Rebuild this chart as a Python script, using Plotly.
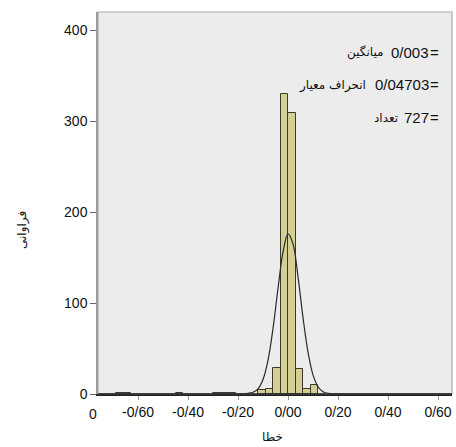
import plotly.graph_objects as go

# Histogram bins (centers) and frequencies
bin_centers = [-0.675, -0.645, -0.435, -0.285, -0.255, -0.225, -0.105, -0.075,
               -0.045, -0.015, 0.015, 0.045, 0.075, 0.105]
counts = [1, 1, 1, 1, 1, 1, 4, 5, 29, 330, 309, 27, 5, 10]
bin_width = 0.03

# Fitted normal curve
curve_x = [-0.76, -0.30, -0.20, -0.16, -0.14, -0.12, -0.10, -0.08, -0.06, -0.04,
           -0.02, 0.0, 0.02, 0.04, 0.06, 0.08, 0.10, 0.12, 0.14, 0.16, 0.20, 0.30, 0.656]
curve_y = [0, 0, 0.1, 0.8, 2, 5.7, 16, 37, 72, 116,
           156, 176, 165, 129, 84, 46, 21, 8, 2.6, 0.7, 0.1, 0, 0]

tick_vals = [-0.6, -0.4, -0.2, 0.0, 0.2, 0.4, 0.6]
tick_text = ["-0/60", "-0/40", "-0/20", "0/00", "0/20", "0/40", "0/60"]
y_ticks = [0, 100, 200, 300, 400]

stat_values = ["0/003", "0/04703", "727"]
stat_labels = ["میانگین", "انحراف معیار", "تعداد"]

FONT = "Liberation Sans, Arial, DejaVu Sans, sans-serif"

fig = go.Figure()
fig.add_trace(go.Bar(
    x=bin_centers, y=counts, width=bin_width,
    marker=dict(color="#d5ce95", line=dict(color="#3a3a2a", width=1)),
    hoverinfo="skip",
))
fig.add_trace(go.Scatter(
    x=curve_x, y=curve_y, mode="lines", line=dict(color="#2a2a2a", width=1.2, shape="spline"),
    hoverinfo="skip",
))

fig.update_layout(
    width=456, height=447,
    margin=dict(l=98, r=4, t=12, b=53),
    paper_bgcolor="white",
    plot_bgcolor="#ececec",
    showlegend=False,
    bargap=0,
    font=dict(family=FONT, size=14, color="#111"),
    xaxis=dict(
        range=[-0.76, 0.656],
        tickvals=tick_vals, ticktext=tick_text,
        ticks="outside", ticklen=4, tickcolor="#999",
        showgrid=False, zeroline=False,
        showline=True, linecolor="#222", linewidth=1.5,
        tickfont=dict(size=14, color="#111"),
        fixedrange=True,
    ),
    yaxis=dict(
        range=[0, 420],
        tickvals=y_ticks,
        ticks="outside", ticklen=6, tickcolor="#666",
        showgrid=False, zeroline=False,
        showline=True, linecolor="#999", linewidth=1.5,
        tickfont=dict(size=14, color="#111"),
        fixedrange=True,
    ),
    shapes=[
        dict(type="rect", xref="paper", yref="paper", x0=0, x1=1, y0=0, y1=1,
             line=dict(color="#aaa", width=1.2), fillcolor="rgba(0,0,0,0)", layer="above"),
        dict(type="line", xref="paper", yref="paper", x0=0, x1=1, y0=0, y1=0,
             line=dict(color="#222", width=1.5), layer="above"),
    ],
)

def px_x(px):
    return (px - 98) / 354

def px_y(py):
    return (394 - py) / 382

annotations = []
label_right_px = [385, 368, 400]
for i, (val, lab) in enumerate(zip(stat_values, stat_labels)):
    ypx = 52 + i * 32.5
    # number
    annotations.append(dict(
        xref="paper", yref="paper", x=px_x(430), y=px_y(ypx),
        xanchor="right", yanchor="middle", showarrow=False, borderpad=0,
        text=val, font=dict(size=15, color="#111", family=FONT),
    ))
    # equals sign, right after the number
    annotations.append(dict(
        xref="paper", yref="paper", x=px_x(429), y=px_y(ypx),
        xanchor="left", yanchor="middle", showarrow=False, borderpad=0,
        text="=", font=dict(size=15, color="#111", family=FONT),
    ))
    # Persian label, to the left of the number
    annotations.append(dict(
        xref="paper", yref="paper", x=px_x(label_right_px[i]), y=px_y(ypx + 1),
        xanchor="right", yanchor="middle", showarrow=False,
        text=lab, font=dict(size=12, color="#111", family="DejaVu Sans"),
    ))
# left "0" label under axis corner
annotations.append(dict(xref="paper", yref="paper", x=px_x(93), y=px_y(414),
                        xanchor="center", yanchor="middle", showarrow=False,
                        text="0", font=dict(size=14, color="#111")))
# axis titles
annotations.append(dict(xref="paper", yref="paper", x=px_x(272), y=px_y(437),
                        xanchor="center", yanchor="middle", showarrow=False,
                        text="خطا", font=dict(size=12, color="#111", family="DejaVu Sans")))
annotations.append(dict(xref="paper", yref="paper", x=px_x(22), y=px_y(230),
                        xanchor="center", yanchor="middle", showarrow=False, textangle=-90,
                        text="فراوانی", font=dict(size=12, color="#111", family="DejaVu Sans")))
fig.update_layout(annotations=annotations)

fig.write_html("out.html")
